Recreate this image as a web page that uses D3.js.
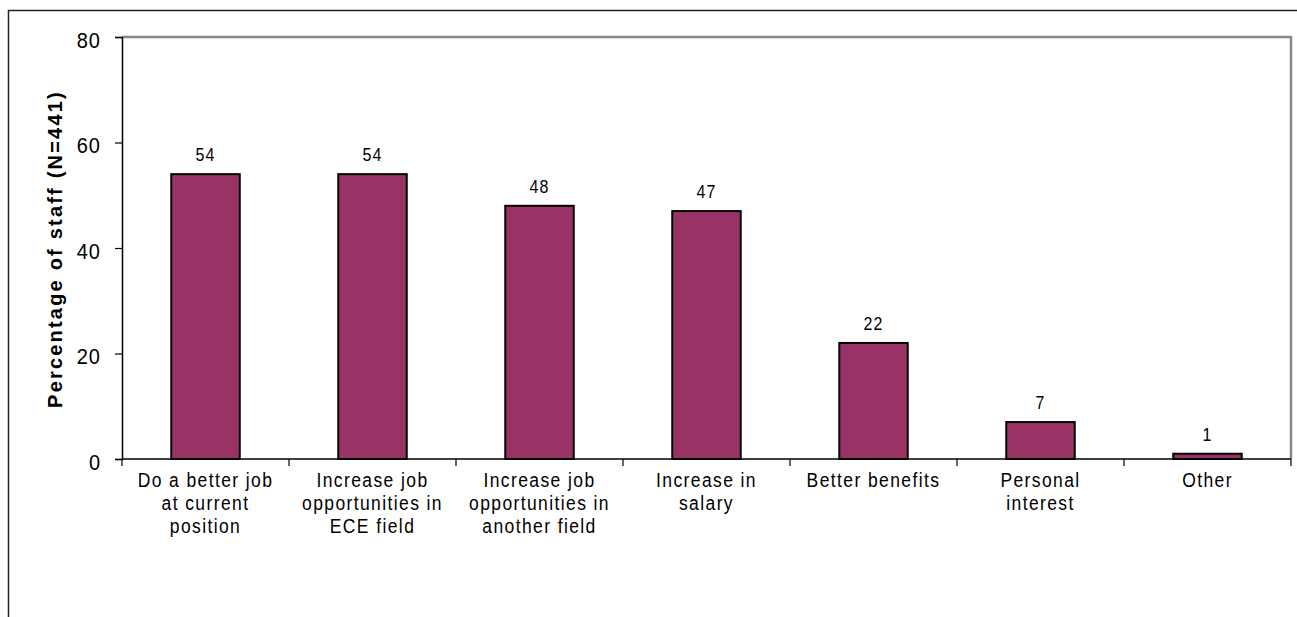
<!DOCTYPE html>
<html><head><meta charset="utf-8">
<script src="https://cdn.jsdelivr.net/npm/d3@7"></script>
<style>body{margin:0;background:#fff}svg{display:block;font-family:"Liberation Sans",Arial,sans-serif}</style>
</head><body>
<svg id="c" width="1297" height="617"></svg>
<script>
const categories = [
  ["Do a better job","at current","position"],
  ["Increase job","opportunities in","ECE field"],
  ["Increase job","opportunities in","another field"],
  ["Increase in","salary"],
  ["Better benefits"],
  ["Personal","interest"],
  ["Other"]
];
const values = [54, 54, 48, 47, 22, 7, 1];
const yTicks = [0, 20, 40, 60, 80];
const yTitle = "Percentage of staff (N=441)";

const svg = d3.select("#c");
const L = 122, R = 1291, T = 37, B = 459;
const SY = 1.14; // vertical stretch of text
const keys = categories.map((d,i)=>i);
const x = d3.scaleBand().domain(keys).range([L, R]).paddingInner(0.59).paddingOuter(0.295);
const xb = d3.scaleBand().domain(keys).range([L, R]);
const y = d3.scaleLinear().domain([0, 80]).range([B, T]);

// outer border
svg.append("path").attr("d", `M8.5,${617} V10.5 H1297`).attr("fill","none").attr("stroke","#222").attr("stroke-width",1.5);

// plot frame top & right (gray)
svg.append("path").attr("d", `M${L},${T} H${R} V${B}`).attr("fill","none").attr("stroke","#888").attr("stroke-width",2.5);

// bars
svg.selectAll("rect.bar").data(values).join("rect")
  .attr("x",(d,i)=>x(i)).attr("width",x.bandwidth())
  .attr("y",d=>y(d)).attr("height",d=>B-y(d))
  .attr("fill","#993366").attr("stroke","#000").attr("stroke-width",2);

// value labels
svg.selectAll("text.val").data(values).join("text")
  .attr("transform",(d,i)=>`translate(${x(i)+x.bandwidth()/2},${y(d)-13}) scale(1,${SY})`)
  .attr("text-anchor","middle").attr("font-size",16).attr("letter-spacing",1)
  .text(d=>d);

// y axis
const ya = svg.append("g").attr("transform",`translate(${L},0)`)
  .call(d3.axisLeft(y).tickValues(yTicks).tickSize(7).tickPadding(14));
ya.select(".domain").attr("stroke","#000").attr("stroke-width",1.5);
ya.selectAll(".tick line").attr("stroke","#000").attr("stroke-width",1.2);
ya.selectAll(".tick text").attr("font-size",20).attr("letter-spacing",1).attr("fill","#000")
  .attr("font-family","Liberation Sans, Arial, sans-serif")
  .attr("dy","0.45em").attr("transform",`scale(1,${SY})`);

// x axis line and ticks
svg.append("line").attr("x1",L).attr("x2",R).attr("y1",B).attr("y2",B).attr("stroke","#000").attr("stroke-width",1.5);
const xt = keys.map(i=>xb(i)).concat([R]);
svg.selectAll("line.xt").data(xt).join("line")
  .attr("x1",d=>d).attr("x2",d=>d).attr("y1",B).attr("y2",B+7).attr("stroke","#000").attr("stroke-width",1.2);

// category labels
const cl = svg.selectAll("text.cat").data(categories).join("text")
  .attr("text-anchor","middle").attr("font-size",17.5).attr("letter-spacing",1.4)
  .attr("transform",(d,i)=>`translate(${xb(i)+xb.bandwidth()/2},487) scale(1,${SY})`);
cl.selectAll("tspan").data(d=>d).join("tspan")
  .attr("x",0).attr("dy",(d,j)=>j===0?0:23/SY).text(d=>d);

// y title
svg.append("text").attr("transform",`translate(62,${(T+B)/2+1}) rotate(-90)`)
  .attr("text-anchor","middle").attr("font-size",20).attr("font-weight","bold").attr("letter-spacing",2.2)
  .text(yTitle);
</script>
</body></html>
